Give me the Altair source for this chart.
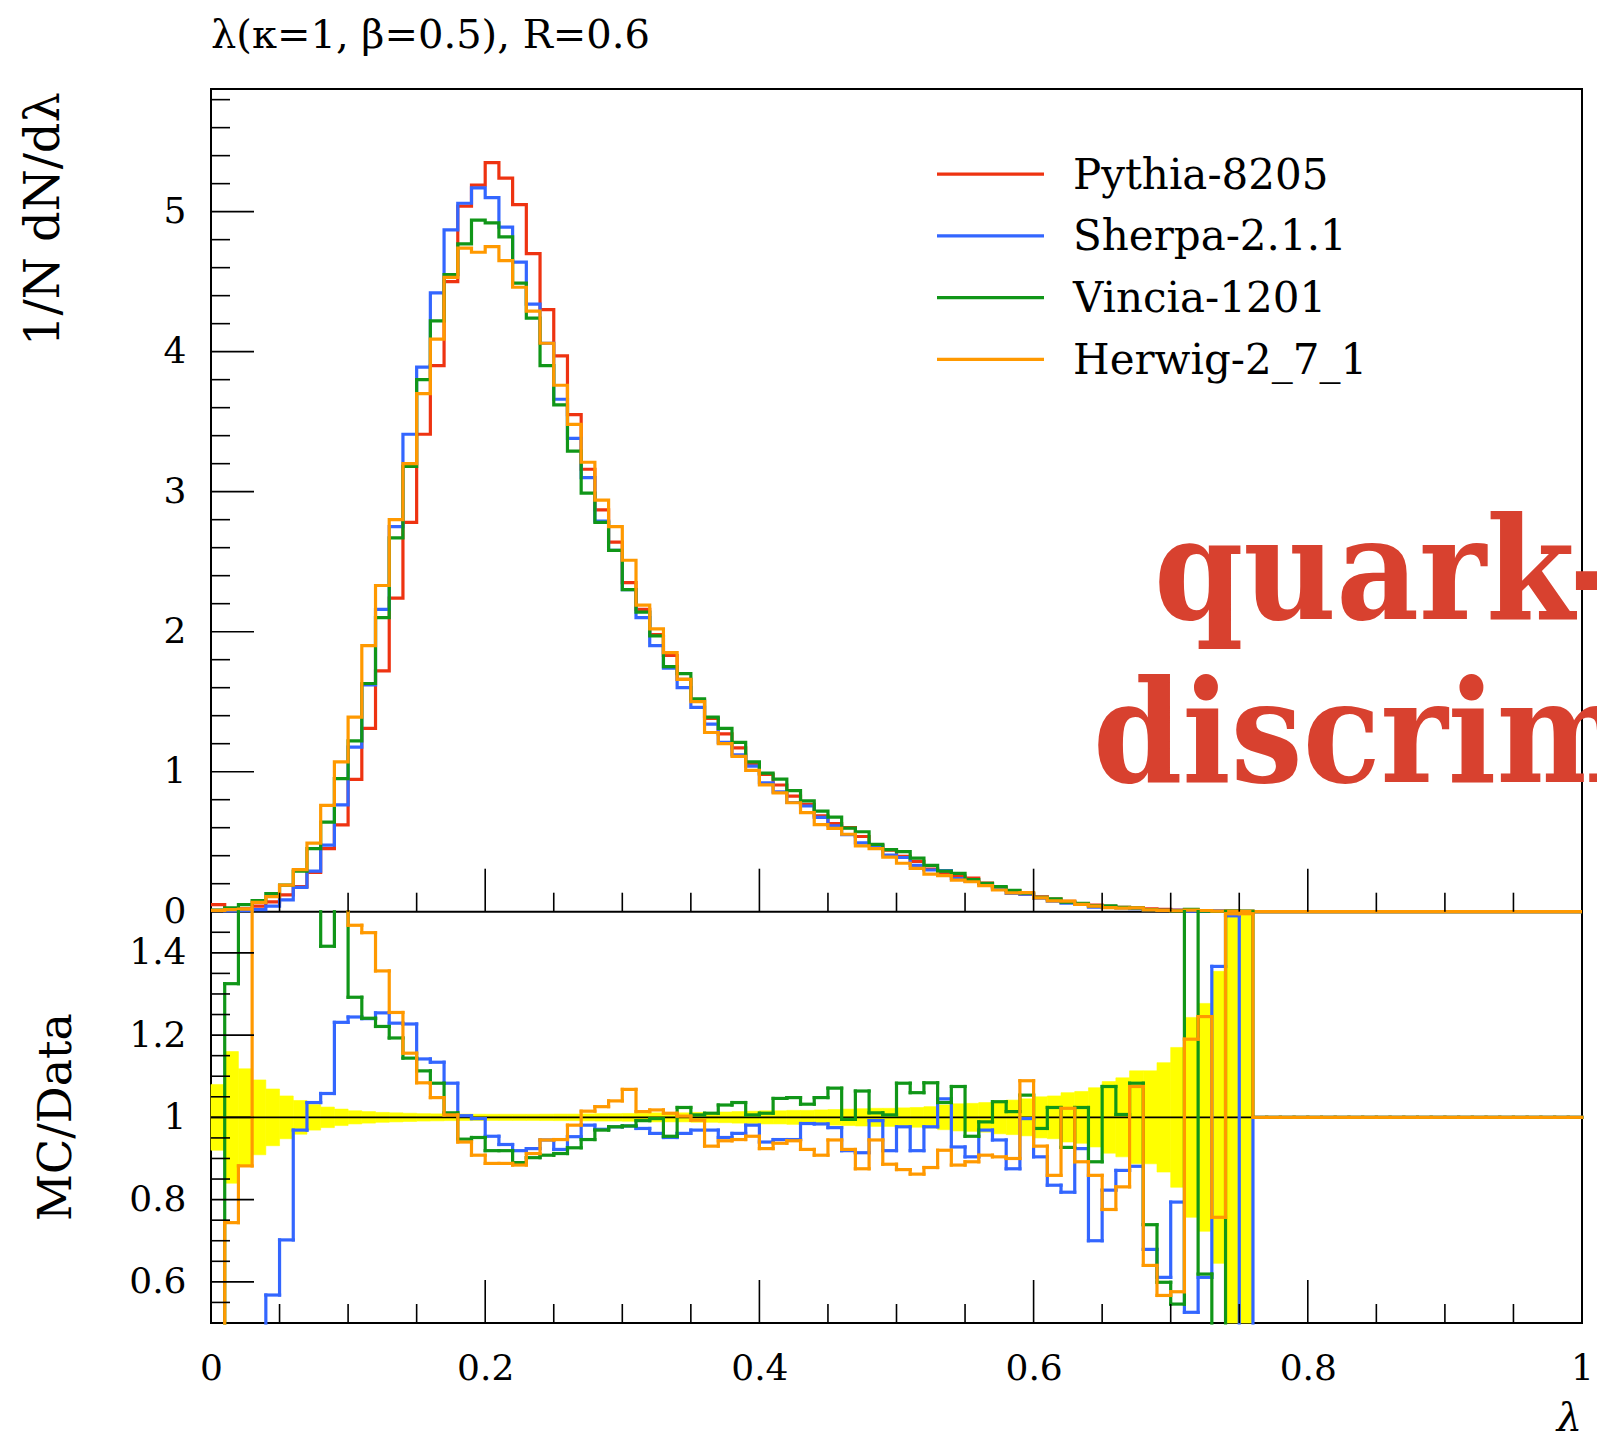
import altair as alt
import pandas as pd

# ---------------- data ----------------
GENERATORS = ["Pythia-8205", "Sherpa-2.1.1", "Vincia-1201", "Herwig-2_7_1"]
COLORS = ["#ee3311", "#3366ff", "#109618", "#ff9900"]

N_BINS = 100
BIN_EDGES = [i / 100 for i in range(N_BINS + 1)]

pythia = [0.05, 0.02, 0.02, 0.04, 0.07, 0.12, 0.18, 0.28, 0.45, 0.62,
          0.945, 1.31, 1.72, 2.24, 2.78, 3.41, 3.90, 4.50, 5.04, 5.19,
          5.35, 5.24, 5.05, 4.70, 4.30, 3.97, 3.55, 3.16, 2.87, 2.64,
          2.35, 2.16, 1.98, 1.83, 1.66, 1.51, 1.38, 1.27, 1.17, 1.06,
          0.98, 0.905, 0.825, 0.767, 0.685, 0.63, 0.60, 0.537, 0.476, 0.44,
          0.396, 0.36, 0.305, 0.28, 0.255, 0.24, 0.205, 0.172, 0.15, 0.125,
          0.106, 0.09, 0.074, 0.058, 0.047, 0.038, 0.031, 0.025, 0.02, 0.016,
          0.012, 0.009, 0.007, 0.005, 0.003, 0.002] + [0.0] * 24

sherpa = [0.01, 0.005, 0.008, 0.015, 0.04, 0.084, 0.174, 0.29, 0.476, 0.763,
          1.175, 1.62, 2.16, 2.75, 3.41, 3.89, 4.42, 4.87, 5.06, 5.17,
          5.10, 4.89, 4.64, 4.34, 4.06, 3.66, 3.38, 3.10, 2.79, 2.58,
          2.30, 2.10, 1.90, 1.74, 1.60, 1.46, 1.34, 1.21, 1.12, 1.04,
          0.921, 0.856, 0.780, 0.755, 0.674, 0.614, 0.551, 0.491, 0.472, 0.404,
          0.387, 0.331, 0.298, 0.293, 0.237, 0.217, 0.199, 0.163, 0.131, 0.125,
          0.096, 0.075, 0.061, 0.054, 0.033, 0.031, 0.027, 0.022, 0.014, 0.010,
          0.0095, 0.0047, 0.0043, 0.0068, 0.0045, 0.0006] + [0.0] * 24

vincia = [0.012, 0.027, 0.05, 0.08, 0.13, 0.19, 0.29, 0.45, 0.64, 0.95,
          1.22, 1.63, 2.10, 2.67, 3.18, 3.80, 4.22, 4.55, 4.77, 4.94,
          4.92, 4.82, 4.49, 4.24, 3.90, 3.62, 3.29, 2.99, 2.78, 2.58,
          2.30, 2.14, 1.97, 1.75, 1.70, 1.52, 1.39, 1.31, 1.21, 1.07,
          0.99, 0.947, 0.865, 0.792, 0.718, 0.675, 0.597, 0.571, 0.481, 0.443,
          0.429, 0.382, 0.331, 0.29, 0.274, 0.229, 0.203, 0.179, 0.152, 0.132,
          0.103, 0.092, 0.069, 0.059, 0.042, 0.041, 0.031, 0.027, 0.015, 0.0096,
          0.0066, 0.016, 0.0043, 0.0015, 0.0054, 0.0036] + [0.0] * 24

herwig = [0.01, 0.015, 0.018, 0.067, 0.107, 0.19, 0.30, 0.49, 0.76, 1.07,
          1.39, 1.90, 2.33, 2.80, 3.20, 3.70, 4.09, 4.53, 4.74, 4.71,
          4.75, 4.65, 4.46, 4.29, 4.06, 3.76, 3.48, 3.21, 2.94, 2.75,
          2.51, 2.19, 2.02, 1.85, 1.66, 1.50, 1.28, 1.20, 1.11, 1.01,
          0.906, 0.848, 0.778, 0.707, 0.622, 0.595, 0.553, 0.47, 0.45, 0.39,
          0.346, 0.31, 0.268, 0.258, 0.225, 0.214, 0.186, 0.155, 0.135, 0.136,
          0.099, 0.077, 0.076, 0.052, 0.04, 0.029, 0.026, 0.027, 0.013, 0.009,
          0.0069, 0.0107, 0.0087, 0.0038, 0.0045, 0.003] + [0.0] * 24

# MC / Data ratios (Data = Pythia reference)
ratio_sherpa = [0.2, 0.25, 0.4, 0.38, 0.568, 0.702, 0.969, 1.036, 1.058, 1.231,
                1.244, 1.24, 1.254, 1.229, 1.227, 1.142, 1.134, 1.083, 1.004, 0.997,
                0.954, 0.934, 0.919, 0.924, 0.945, 0.922, 0.953, 0.981, 0.971, 0.977,
                0.979, 0.973, 0.961, 0.951, 0.961, 0.969, 0.969, 0.951, 0.961, 0.981,
                0.94, 0.946, 0.946, 0.985, 0.984, 0.975, 0.919, 0.914, 0.992, 0.919,
                0.977, 0.919, 0.977, 1.045, 0.928, 0.904, 0.969, 0.945, 0.875, 0.997,
                0.904, 0.835, 0.818, 0.924, 0.70, 0.823, 0.871, 0.881, 0.679, 0.611,
                0.794, 0.526, 0.611, 1.367, 1.49, 0.3] + [1.0] * 24

ratio_vincia = [0.24, 1.325, 2.5, 2.0, 1.86, 1.58, 1.61, 1.61, 1.416, 1.53,
                1.292, 1.241, 1.221, 1.193, 1.144, 1.113, 1.083, 1.011, 0.947, 0.951,
                0.919, 0.919, 0.89, 0.902, 0.908, 0.912, 0.926, 0.946, 0.969, 0.977,
                0.979, 0.992, 0.997, 0.954, 1.024, 1.006, 1.01, 1.03, 1.036, 1.006,
                1.01, 1.046, 1.048, 1.032, 1.048, 1.071, 0.995, 1.064, 1.011, 1.006,
                1.083, 1.06, 1.084, 1.036, 1.075, 0.954, 0.989, 1.038, 1.014, 1.054,
                0.973, 1.024, 0.927, 1.024, 0.892, 1.075, 1.007, 1.083, 0.739, 0.599,
                0.546, 1.8, 0.619, 0.3, 1.8, 1.8] + [1.0] * 24

ratio_herwig = [0.2, 0.744, 0.882, 1.67, 1.53, 1.58, 1.67, 1.75, 1.69, 1.73,
                1.467, 1.449, 1.356, 1.255, 1.156, 1.084, 1.048, 1.006, 0.94, 0.908,
                0.888, 0.888, 0.884, 0.912, 0.945, 0.946, 0.981, 1.015, 1.026, 1.04,
                1.068, 1.014, 1.018, 1.01, 1.003, 0.993, 0.93, 0.943, 0.946, 0.954,
                0.924, 0.937, 0.943, 0.922, 0.908, 0.945, 0.922, 0.875, 0.945, 0.886,
                0.873, 0.862, 0.878, 0.92, 0.884, 0.892, 0.908, 0.904, 0.9, 1.089,
                0.93, 0.859, 1.022, 0.892, 0.859, 0.776, 0.831, 1.075, 0.64, 0.567,
                0.576, 1.19, 1.245, 0.757, 1.495, 1.495] + [1.0] * 24

# half-width of the (yellow) reference uncertainty band, bins with data only
band_halfwidth = [0.08, 0.16, 0.118, 0.091, 0.069, 0.052, 0.041, 0.031, 0.025, 0.020,
                  0.016, 0.014, 0.012, 0.011, 0.010, 0.009, 0.0085, 0.008, 0.0078, 0.0076,
                  0.0075, 0.0075, 0.0075, 0.0075, 0.0078, 0.008, 0.008, 0.0085, 0.009, 0.009,
                  0.0095, 0.010, 0.011, 0.011, 0.011, 0.012, 0.012, 0.013, 0.014, 0.015,
                  0.016, 0.016, 0.017, 0.017, 0.018, 0.019, 0.020, 0.021, 0.022, 0.022,
                  0.023, 0.024, 0.026, 0.030, 0.033, 0.034, 0.036, 0.040, 0.042, 0.045,
                  0.050, 0.052, 0.060, 0.063, 0.072, 0.087, 0.096, 0.113, 0.113, 0.133,
                  0.17, 0.243, 0.277, 0.355, 1.0, 1.0]

X_LABELS = [0, 0.2, 0.4, 0.6, 0.8, 1]
TOP_Y_LABELS = [0, 1, 2, 3, 4, 5]
RATIO_Y_LABELS = [0.6, 0.8, 1.0, 1.2, 1.4]
TOP_Y_MAJOR = [1, 2, 3, 4, 5]
TOP_Y_MINOR = [round(0.2 * k, 2) for k in range(1, 30) if k % 5 != 0]
RATIO_Y_MAJOR = [0.6, 0.8, 1.0, 1.2, 1.4]
RATIO_Y_MINOR = [round(0.5 + 0.05 * k, 2) for k in range(1, 20) if k % 4 != 2]
X_MAJOR = [0.2, 0.4, 0.6, 0.8]
X_MINOR = [round(0.05 * k, 2) for k in range(1, 20) if k % 4 != 0]

TITLE = "λ(κ=1, β=0.5), R=0.6"
YTITLE_TOP = "1/N dN/dλ"
YTITLE_RATIO = "MC/Data"
XTITLE = "λ"
OVERLAY_1 = "quark-"
OVERLAY_2 = "discrim"

# ---------------- layout ----------------
W, H = 1371, 1234
Y0_TOP = 822.7          # pixel of the split between panels
FONT = "DejaVu Serif"
OVERLAY_FONT = "DejaVu Serif Condensed, DejaVu Serif"
MAJ, MINL = 43, 19      # inward tick lengths
LW = 3.2

xscale = alt.Scale(domain=[0, 1], nice=False, zero=False)
top_scale = alt.Scale(domain=[0, 5.876], range=[Y0_TOP, 0], nice=False, zero=False)
rat_scale = alt.Scale(domain=[0.5, 1.5], range=[H, Y0_TOP], nice=False, zero=False, clamp=True)
color_scale = alt.Scale(domain=GENERATORS, range=COLORS)

x_axis = alt.Axis(values=X_LABELS, format="~g", title=None, ticks=False, tickSize=0, domain=False,
                  grid=False, labelFont=FONT, labelFontSize=36, labelColor="black", labelFlush=False,
                  labelOverlap=False, labelPadding=45, labelBaseline="middle")
top_axis = alt.Axis(values=TOP_Y_LABELS, format="~g", orient="left", title=None, ticks=False,
                    tickSize=0, domain=False, grid=False, labelFont=FONT, labelFontSize=36,
                    labelColor="black", labelOverlap=False, labelPadding=25, labelBaseline="middle",
                    labelFlush=False)
rat_axis = alt.Axis(values=RATIO_Y_LABELS, format="~g", orient="left", title=None, ticks=False,
                    tickSize=0, domain=False, grid=False, labelFont=FONT, labelFontSize=36,
                    labelColor="black", labelOverlap=False, labelPadding=25, labelBaseline="middle",
                    labelFlush=False)


def X(field):
    return alt.X(field, type="quantitative", scale=xscale, axis=x_axis)


one_row = pd.DataFrame({"d": [0]})
layers = []

# yellow reference band
band_df = pd.DataFrame({
    "lo": BIN_EDGES[:len(band_halfwidth)],
    "hi": BIN_EDGES[1:len(band_halfwidth) + 1],
    "ylo": [1 - e for e in band_halfwidth],
    "yhi": [1 + e for e in band_halfwidth],
})
layers.append(alt.Chart(band_df).mark_rect(color="#ffff00", stroke="#ffff00", strokeWidth=0.6).encode(
    x=X("lo"), x2="hi",
    y=alt.Y("ylo", type="quantitative", scale=rat_scale, axis=None), y2="yhi"))

# line at ratio 1
unit_df = pd.DataFrame({"x0": [0.0], "x1": [1.0], "r": [1.0]})
layers.append(alt.Chart(unit_df).mark_rule(color="black", strokeWidth=1.6).encode(
    x=X("x0"), x2="x1",
    y=alt.Y("r", type="quantitative", scale=rat_scale, axis=rat_axis)))

# divider between panels
layers.append(alt.Chart(one_row).mark_rule(color="black", strokeWidth=2).encode(
    x=alt.value(0), x2=alt.value(W), y=alt.value(Y0_TOP)))

# top panel histograms
for k, (name, vals) in enumerate(zip(GENERATORS, [pythia, sherpa, vincia, herwig])):
    df = pd.DataFrame({"x": BIN_EDGES, "v": vals + [vals[-1]], "gen": name})
    layers.append(alt.Chart(df).mark_line(interpolate="step-after", strokeWidth=LW).encode(
        x=X("x"),
        y=alt.Y("v", type="quantitative", scale=top_scale, axis=top_axis if k == 0 else None),
        color=alt.Color("gen:N", scale=color_scale, legend=None)))

# ratio panel step lines (segments, clipped to the panel by clamping)
rows = []
for name, vals in zip(GENERATORS[1:], [ratio_sherpa, ratio_vincia, ratio_herwig]):
    for i, v in enumerate(vals):
        if 0.5 <= v <= 1.5:
            rows.append(dict(gen=name, x=BIN_EDGES[i], x2=BIN_EDGES[i + 1], y=v, y2=v))
        if i + 1 < len(vals):
            w = vals[i + 1]
            same_out = (v > 1.5 and w > 1.5) or (v < 0.5 and w < 0.5)
            if w != v and not same_out:
                rows.append(dict(gen=name, x=BIN_EDGES[i + 1], x2=BIN_EDGES[i + 1], y=v, y2=w))
ratio_df = pd.DataFrame(rows)
layers.append(alt.Chart(ratio_df).mark_rule(strokeWidth=LW, strokeCap="square").encode(
    x=X("x"), x2="x2",
    y=alt.Y("y", type="quantitative", scale=rat_scale, axis=None), y2="y2",
    color=alt.Color("gen:N", scale=color_scale, legend=None)))


# inward ticks
def ytick_layer(values, scale, length):
    df = pd.DataFrame({"v": values})
    return alt.Chart(df).mark_rule(color="black", strokeWidth=1.6).encode(
        x=alt.value(0), x2=alt.value(length),
        y=alt.Y("v", type="quantitative", scale=scale, axis=None))


def xtick_layer(values, base, length):
    df = pd.DataFrame({"v": values})
    return alt.Chart(df).mark_rule(color="black", strokeWidth=1.6).encode(
        x=X("v"), y=alt.value(base), y2=alt.value(base - length))


layers += [
    ytick_layer(TOP_Y_MAJOR, top_scale, MAJ), ytick_layer(TOP_Y_MINOR, top_scale, MINL),
    ytick_layer(RATIO_Y_MAJOR, rat_scale, MAJ), ytick_layer(RATIO_Y_MINOR, rat_scale, MINL),
    xtick_layer(X_MAJOR, Y0_TOP, MAJ), xtick_layer(X_MINOR, Y0_TOP, MINL),
    xtick_layer(X_MAJOR, H, MAJ), xtick_layer(X_MINOR, H, MINL),
]

# legend
leg_df = pd.DataFrame({"gen": GENERATORS, "row": [0, 1, 2, 3]})
row_scale = alt.Scale(type="point", domain=[0, 1, 2, 3], range=[85.2, 270.3], padding=0)
layers.append(alt.Chart(leg_df).mark_rule(strokeWidth=LW).encode(
    x=alt.value(726), x2=alt.value(833),
    y=alt.Y("row:O", scale=row_scale, axis=None),
    color=alt.Color("gen:N", scale=color_scale, legend=None)))
layers.append(alt.Chart(leg_df).mark_text(font=FONT, fontSize=42, align="left", baseline="alphabetic",
                                          dy=14.5, color="black").encode(
    x=alt.value(862), y=alt.Y("row:O", scale=row_scale, axis=None), text="gen:N"))


def text_layer(txt, x, y, **kw):
    return alt.Chart(pd.DataFrame({"t": [txt]})).mark_text(**kw).encode(
        x=alt.value(x), y=alt.value(y), text="t:N")


layers += [
    text_layer(TITLE, 0, -41, font=FONT, fontSize=40, align="left", baseline="alphabetic", color="black"),
    text_layer(YTITLE_TOP, -152, 3, font=FONT, fontSize=48, align="right", baseline="alphabetic",
               angle=270, color="black"),
    text_layer(YTITLE_RATIO, -140, 1028, font=FONT, fontSize=46, align="center", baseline="alphabetic",
               angle=270, color="black"),
    text_layer(XTITLE, W, 1342, font=FONT, fontSize=40, fontStyle="italic", align="right",
               baseline="alphabetic", color="black"),
    text_layer(OVERLAY_1, 943, 530, font=OVERLAY_FONT, fontSize=142,
               fontWeight="bold", align="left", baseline="alphabetic", color="#d8412f"),
    text_layer(OVERLAY_2, 882, 693, font=OVERLAY_FONT, fontSize=142,
               fontWeight="bold", align="left", baseline="alphabetic", color="#d8412f"),
]

chart = alt.layer(*layers).resolve_scale(y="independent").properties(
    width=W, height=H,
    autosize=alt.AutoSizeParams(type="none"),
    padding={"left": 211, "top": 89, "right": 15, "bottom": 114},
    background="white",
).configure_view(stroke="black", strokeWidth=2)

chart.save("out.html", embed_options={"renderer": "svg", "actions": False})
